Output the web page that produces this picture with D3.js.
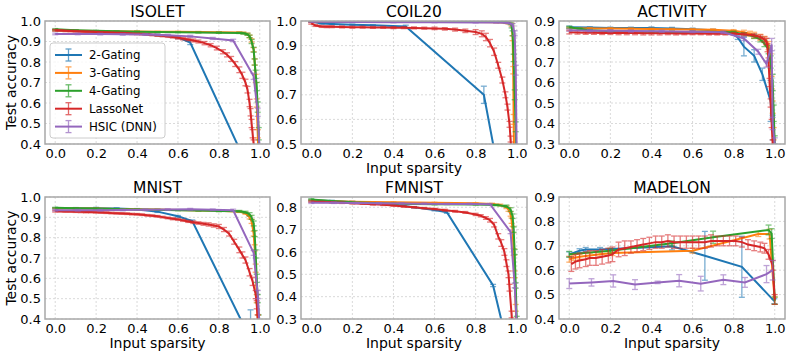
<!DOCTYPE html>
<html><head><meta charset="utf-8">
<script src="https://cdn.jsdelivr.net/npm/d3@7"></script>
<style>body{margin:0;background:#fff}svg{display:block;font-family:"DejaVu Sans",sans-serif}</style>
</head><body><svg id="c" width="793" height="357"></svg>
<script>
const METHODS = ["2-Gating","3-Gating","4-Gating","LassoNet","HSIC (DNN)"];
const COLORS = ["#1f77b4","#ff7f0e","#2ca02c","#d62728","#9467bd"];
const X_TICKS = [0,0.2,0.4,0.6,0.8,1.0];

// ISOLET: [sparsity, accuracy, error]
const ISOLET_G2 = [[0,0.955,0.003],[0.1,0.952,0.003],[0.2,0.948,0.003],[0.3,0.944,0.003],[0.4,0.94,0.004],[0.5,0.932,0.005],[0.6,0.92,0.006],[0.66,0.895,0.01],[0.95,0.27,0.02]];
const ISOLET_G3 = [[0,0.955,0.003],[0.1,0.953,0.002],[0.2,0.951,0.002],[0.3,0.95,0.002],[0.4,0.949,0.002],[0.5,0.948,0.002],[0.6,0.947,0.002],[0.7,0.946,0.003],[0.8,0.945,0.003],[0.9,0.944,0.003],[0.92,0.942,0.004],[0.94,0.936,0.005],[0.95,0.925,0.006],[0.96,0.905,0.008],[0.97,0.86,0.01],[0.975,0.8,0.015],[0.98,0.72,0.02],[0.985,0.6,0.02],[0.99,0.45,0.02],[0.995,0.3,0.02]];
const ISOLET_G4 = [[0,0.96,0.003],[0.1,0.955,0.002],[0.2,0.952,0.002],[0.3,0.95,0.002],[0.4,0.948,0.002],[0.5,0.946,0.002],[0.6,0.945,0.002],[0.7,0.944,0.002],[0.8,0.943,0.003],[0.9,0.942,0.003],[0.92,0.94,0.004],[0.94,0.935,0.005],[0.95,0.925,0.006],[0.96,0.9,0.01],[0.97,0.86,0.012],[0.975,0.8,0.015],[0.98,0.74,0.02],[0.985,0.68,0.02],[0.99,0.58,0.025],[0.995,0.45,0.03],[1.0,0.3,0.03]];
const ISOLET_LN = [[0,0.955,0.004],[0.025,0.954,0.004],[0.05,0.952,0.004],[0.075,0.951,0.004],[0.1,0.95,0.004],[0.125,0.949,0.004],[0.15,0.948,0.004],[0.175,0.947,0.004],[0.2,0.946,0.004],[0.225,0.945,0.004],[0.25,0.944,0.004],[0.275,0.943,0.004],[0.3,0.942,0.004],[0.325,0.941,0.004],[0.35,0.94,0.004],[0.375,0.938,0.004],[0.4,0.937,0.004],[0.425,0.936,0.004],[0.45,0.934,0.004],[0.475,0.932,0.004],[0.5,0.93,0.005],[0.525,0.928,0.005],[0.55,0.925,0.005],[0.575,0.922,0.005],[0.6,0.918,0.006],[0.625,0.914,0.006],[0.65,0.91,0.006],[0.675,0.905,0.007],[0.7,0.9,0.007],[0.73,0.892,0.008],[0.76,0.882,0.008],[0.79,0.868,0.009],[0.82,0.85,0.01],[0.84,0.835,0.01],[0.86,0.815,0.012],[0.88,0.79,0.012],[0.9,0.762,0.014],[0.915,0.735,0.015],[0.93,0.7,0.016],[0.94,0.665,0.016],[0.95,0.6,0.018],[0.955,0.555,0.018],[0.96,0.5,0.02],[0.965,0.45,0.02],[0.97,0.4,0.02],[0.975,0.3,0.02]];
const ISOLET_HS = [[0,0.937,0.004],[0.11,0.937,0.004],[0.22,0.936,0.004],[0.33,0.935,0.004],[0.44,0.934,0.004],[0.55,0.931,0.004],[0.66,0.925,0.005],[0.77,0.915,0.005],[0.87,0.905,0.006],[0.97,0.73,0.015],[0.99,0.555,0.02],[1.0,0.35,0.02]];

const COIL20_G2 = [[0,0.998,0.002],[0.05,0.99,0.002],[0.1,0.988,0.002],[0.2,0.985,0.002],[0.3,0.983,0.002],[0.46,0.978,0.005],[0.84,0.7,0.035],[0.93,0.3,0.04]];
const COIL20_G3 = [[0,0.998,0.001],[0.2,0.997,0.001],[0.4,0.997,0.001],[0.6,0.996,0.001],[0.8,0.996,0.001],[0.9,0.995,0.002],[0.95,0.993,0.003],[0.96,0.992,0.004],[0.975,0.985,0.006],[0.98,0.93,0.01],[0.983,0.8,0.015],[0.985,0.6,0.02],[0.987,0.45,0.02]];
const COIL20_G4 = [[0,0.998,0.001],[0.2,0.998,0.001],[0.4,0.997,0.001],[0.6,0.997,0.001],[0.8,0.997,0.001],[0.9,0.997,0.002],[0.95,0.995,0.003],[0.97,0.99,0.005],[0.975,0.98,0.008],[0.98,0.95,0.01],[0.985,0.85,0.015],[0.99,0.7,0.02],[0.995,0.57,0.02],[1.0,0.4,0.02]];
const COIL20_LN = [[0,0.99,0.003],[0.02,0.982,0.004],[0.05,0.978,0.004],[0.075,0.977,0.004],[0.1,0.977,0.004],[0.15,0.976,0.004],[0.2,0.975,0.004],[0.25,0.975,0.004],[0.3,0.974,0.004],[0.35,0.974,0.004],[0.4,0.973,0.004],[0.45,0.973,0.004],[0.5,0.972,0.004],[0.55,0.971,0.004],[0.6,0.97,0.005],[0.65,0.968,0.005],[0.7,0.965,0.006],[0.75,0.96,0.007],[0.8,0.955,0.01],[0.83,0.948,0.012],[0.85,0.935,0.015],[0.87,0.91,0.015],[0.89,0.875,0.015],[0.91,0.82,0.012],[0.93,0.76,0.012],[0.945,0.7,0.012],[0.955,0.65,0.012],[0.965,0.58,0.012],[0.97,0.52,0.012],[0.975,0.45,0.012]];
const COIL20_HS = [[0,0.997,0.002],[0.2,0.996,0.002],[0.4,0.995,0.002],[0.6,0.995,0.002],[0.8,0.994,0.002],[0.9,0.994,0.002],[0.96,0.992,0.003],[0.98,0.985,0.005],[0.99,0.95,0.01],[0.995,0.8,0.02],[1.0,0.45,0.02]];

const ACTIVITY_G2 = [[0,0.87,0.005],[0.1,0.868,0.004],[0.2,0.866,0.004],[0.3,0.866,0.004],[0.4,0.866,0.005],[0.5,0.864,0.005],[0.6,0.86,0.005],[0.7,0.855,0.005],[0.78,0.845,0.006],[0.82,0.82,0.01],[0.85,0.775,0.045],[0.9,0.73,0.03],[0.94,0.64,0.03],[0.98,0.51,0.1],[0.99,0.38,0.06],[1.0,0.25,0.05]];
const ACTIVITY_G3 = [[0,0.865,0.004],[0.1,0.864,0.004],[0.2,0.863,0.004],[0.3,0.862,0.004],[0.4,0.861,0.004],[0.5,0.86,0.004],[0.6,0.859,0.004],[0.7,0.857,0.004],[0.8,0.852,0.006],[0.85,0.845,0.01],[0.88,0.838,0.012],[0.9,0.83,0.015],[0.93,0.82,0.015],[0.95,0.81,0.015],[0.96,0.8,0.015],[0.97,0.78,0.02],[0.98,0.72,0.02],[0.985,0.6,0.03],[0.99,0.48,0.03],[0.995,0.35,0.03],[1.0,0.25,0.03]];
const ACTIVITY_G4 = [[0,0.87,0.004],[0.05,0.862,0.004],[0.1,0.855,0.004],[0.2,0.85,0.004],[0.3,0.848,0.004],[0.4,0.847,0.004],[0.5,0.846,0.004],[0.6,0.846,0.004],[0.7,0.845,0.004],[0.8,0.845,0.005],[0.85,0.835,0.008],[0.9,0.825,0.01],[0.93,0.81,0.012],[0.95,0.79,0.015],[0.97,0.76,0.02],[0.98,0.7,0.03],[0.99,0.6,0.04],[0.995,0.45,0.04],[1.0,0.3,0.04]];
const ACTIVITY_LN = [[0,0.845,0.008],[0.04,0.844,0.008],[0.08,0.843,0.008],[0.12,0.843,0.008],[0.16,0.842,0.008],[0.2,0.842,0.008],[0.24,0.841,0.008],[0.28,0.841,0.008],[0.32,0.841,0.008],[0.36,0.84,0.008],[0.4,0.84,0.008],[0.44,0.84,0.008],[0.48,0.84,0.007],[0.52,0.839,0.007],[0.56,0.839,0.006],[0.6,0.839,0.006],[0.64,0.839,0.006],[0.68,0.838,0.006],[0.72,0.838,0.006],[0.76,0.838,0.006],[0.8,0.838,0.006],[0.85,0.835,0.007],[0.9,0.83,0.008],[0.93,0.822,0.01],[0.95,0.81,0.012],[0.96,0.8,0.015],[0.965,0.77,0.02],[0.97,0.7,0.02],[0.975,0.6,0.02],[0.98,0.5,0.02],[0.985,0.4,0.02],[0.99,0.3,0.02]];
const ACTIVITY_HS = [[0,0.855,0.005],[0.1,0.853,0.005],[0.2,0.852,0.005],[0.3,0.851,0.005],[0.45,0.85,0.005],[0.6,0.848,0.005],[0.75,0.845,0.006],[0.85,0.815,0.01],[0.92,0.75,0.012],[0.96,0.69,0.015],[0.985,0.785,0.03],[0.99,0.4,0.03],[1.0,0.3,0.03]];

const MNIST_G2 = [[0,0.945,0.003],[0.1,0.945,0.003],[0.2,0.945,0.004],[0.3,0.944,0.003],[0.4,0.94,0.003],[0.5,0.928,0.004],[0.6,0.905,0.004],[0.67,0.882,0.005],[0.955,0.3,0.145]];
const MNIST_G3 = [[0,0.945,0.002],[0.1,0.944,0.002],[0.2,0.943,0.002],[0.3,0.941,0.002],[0.4,0.94,0.002],[0.5,0.938,0.002],[0.6,0.936,0.002],[0.7,0.934,0.002],[0.8,0.932,0.003],[0.9,0.928,0.004],[0.93,0.92,0.005],[0.95,0.9,0.008],[0.96,0.88,0.01],[0.97,0.82,0.012],[0.975,0.75,0.015],[0.98,0.65,0.02],[0.985,0.5,0.02],[0.99,0.4,0.02],[0.995,0.3,0.02]];
const MNIST_G4 = [[0,0.947,0.002],[0.1,0.945,0.002],[0.2,0.943,0.002],[0.3,0.941,0.002],[0.4,0.939,0.002],[0.5,0.937,0.002],[0.6,0.935,0.002],[0.7,0.933,0.002],[0.8,0.931,0.003],[0.9,0.93,0.004],[0.93,0.925,0.005],[0.95,0.915,0.008],[0.96,0.9,0.01],[0.97,0.87,0.012],[0.975,0.82,0.015],[0.98,0.72,0.02],[0.985,0.6,0.02],[0.99,0.5,0.02],[0.995,0.4,0.02],[1.0,0.3,0.02]];
const MNIST_LN = [[0,0.93,0.004],[0.025,0.93,0.004],[0.05,0.929,0.004],[0.075,0.929,0.004],[0.1,0.928,0.004],[0.125,0.927,0.004],[0.15,0.926,0.004],[0.175,0.926,0.004],[0.2,0.925,0.004],[0.225,0.924,0.004],[0.25,0.923,0.004],[0.275,0.921,0.004],[0.3,0.92,0.004],[0.325,0.919,0.004],[0.35,0.918,0.004],[0.375,0.916,0.004],[0.4,0.915,0.004],[0.425,0.913,0.004],[0.45,0.91,0.004],[0.475,0.908,0.004],[0.5,0.905,0.004],[0.525,0.901,0.004],[0.55,0.897,0.004],[0.575,0.893,0.005],[0.6,0.89,0.005],[0.625,0.885,0.005],[0.65,0.88,0.005],[0.675,0.876,0.006],[0.7,0.872,0.006],[0.725,0.868,0.007],[0.75,0.865,0.008],[0.775,0.86,0.008],[0.8,0.855,0.01],[0.825,0.84,0.01],[0.85,0.82,0.012],[0.875,0.78,0.012],[0.9,0.74,0.014],[0.915,0.715,0.015],[0.93,0.69,0.015],[0.95,0.63,0.018],[0.965,0.585,0.02],[0.98,0.52,0.02],[0.985,0.47,0.02],[0.99,0.4,0.02],[0.995,0.3,0.02]];
const MNIST_HS = [[0,0.935,0.004],[0.11,0.935,0.004],[0.22,0.935,0.004],[0.33,0.936,0.004],[0.44,0.937,0.004],[0.55,0.938,0.004],[0.66,0.94,0.004],[0.77,0.937,0.004],[0.87,0.935,0.005],[0.97,0.725,0.012],[0.99,0.52,0.02],[1.0,0.35,0.02]];

const FMNIST_G2 = [[0,0.832,0.003],[0.1,0.828,0.003],[0.2,0.824,0.003],[0.3,0.82,0.003],[0.4,0.812,0.003],[0.5,0.8,0.003],[0.6,0.788,0.004],[0.66,0.778,0.005],[0.885,0.45,0.005],[0.95,0.2,0.01]];
const FMNIST_G3 = [[0,0.83,0.003],[0.2,0.825,0.002],[0.4,0.822,0.002],[0.6,0.82,0.002],[0.8,0.818,0.002],[0.88,0.815,0.003],[0.92,0.81,0.004],[0.95,0.8,0.006],[0.96,0.79,0.008],[0.97,0.77,0.01],[0.975,0.74,0.012],[0.98,0.7,0.015],[0.985,0.6,0.015],[0.99,0.5,0.015],[0.995,0.35,0.015],[1.0,0.25,0.015]];
const FMNIST_G4 = [[0,0.835,0.003],[0.1,0.828,0.002],[0.2,0.822,0.002],[0.4,0.816,0.002],[0.6,0.813,0.002],[0.8,0.812,0.002],[0.9,0.81,0.003],[0.95,0.805,0.005],[0.97,0.79,0.008],[0.98,0.76,0.01],[0.985,0.7,0.012],[0.99,0.6,0.012],[0.995,0.45,0.012],[1.0,0.3,0.012]];
const FMNIST_LN = [[0,0.825,0.003],[0.05,0.824,0.003],[0.1,0.822,0.003],[0.15,0.82,0.003],[0.2,0.818,0.003],[0.25,0.816,0.003],[0.3,0.813,0.003],[0.35,0.811,0.003],[0.4,0.808,0.003],[0.45,0.804,0.003],[0.5,0.8,0.003],[0.55,0.796,0.003],[0.6,0.792,0.003],[0.65,0.787,0.004],[0.7,0.782,0.004],[0.75,0.777,0.004],[0.8,0.768,0.005],[0.825,0.762,0.005],[0.85,0.752,0.006],[0.87,0.742,0.008],[0.89,0.722,0.01],[0.91,0.67,0.012],[0.925,0.64,0.015],[0.94,0.6,0.015],[0.95,0.55,0.015],[0.96,0.5,0.015],[0.965,0.44,0.015],[0.975,0.32,0.015],[0.98,0.25,0.015]];
const FMNIST_HS = [[0,0.82,0.003],[0.11,0.82,0.003],[0.22,0.819,0.003],[0.33,0.818,0.003],[0.44,0.817,0.003],[0.55,0.816,0.003],[0.66,0.815,0.003],[0.77,0.815,0.003],[0.87,0.814,0.003],[0.97,0.69,0.008],[0.99,0.45,0.01],[1.0,0.28,0.01]];

const MADELON_G2 = [[0,0.665,0.01],[0.05,0.68,0.008],[0.08,0.685,0.008],[0.15,0.685,0.008],[0.5,0.698,0.015],[0.66,0.659,0.1],[0.84,0.614,0.125],[0.998,0.473,0.01]];
const MADELON_G3 = [[0,0.645,0.012],[0.02,0.65,0.01],[0.05,0.655,0.01],[0.1,0.66,0.01],[0.15,0.665,0.01],[0.21,0.67,0.01],[0.6,0.68,0.01],[0.92,0.748,0.01],[0.975,0.748,0.02],[1.0,0.475,0.015]];
const MADELON_G4 = [[0,0.665,0.012],[0.2,0.68,0.01],[0.5,0.71,0.01],[0.7,0.735,0.025],[0.97,0.765,0.02],[0.985,0.75,0.02],[1.0,0.475,0.015]];
const MADELON_LN = [[0.01,0.625,0.03],[0.03,0.635,0.03],[0.05,0.64,0.03],[0.08,0.645,0.03],[0.1,0.65,0.03],[0.13,0.65,0.03],[0.16,0.655,0.03],[0.19,0.66,0.03],[0.21,0.665,0.03],[0.24,0.685,0.03],[0.27,0.69,0.03],[0.3,0.695,0.025],[0.33,0.7,0.025],[0.36,0.705,0.025],[0.39,0.71,0.025],[0.42,0.715,0.025],[0.45,0.715,0.025],[0.48,0.72,0.025],[0.51,0.715,0.025],[0.54,0.715,0.025],[0.57,0.715,0.025],[0.6,0.715,0.025],[0.63,0.715,0.025],[0.66,0.715,0.025],[0.69,0.72,0.025],[0.72,0.72,0.02],[0.75,0.72,0.02],[0.78,0.72,0.02],[0.81,0.72,0.02],[0.84,0.715,0.02],[0.87,0.705,0.02],[0.9,0.7,0.02],[0.93,0.695,0.02],[0.95,0.69,0.02],[0.97,0.665,0.02],[0.99,0.62,0.02],[1.0,0.48,0.02]];
const MADELON_HS = [[0,0.545,0.02],[0.108,0.55,0.015],[0.214,0.556,0.025],[0.32,0.541,0.02],[0.43,0.55,0.005],[0.535,0.557,0.025],[0.64,0.545,0.03],[0.75,0.561,0.02],[0.855,0.55,0.02],[0.96,0.584,0.035],[0.99,0.6,0.04]];

const PANEL_NAMES = ["ISOLET","COIL20","ACTIVITY","MNIST","FMNIST","MADELON"];
const PANEL_SERIES = [
  [ISOLET_G2,ISOLET_G3,ISOLET_G4,ISOLET_LN,ISOLET_HS],
  [COIL20_G2,COIL20_G3,COIL20_G4,COIL20_LN,COIL20_HS],
  [ACTIVITY_G2,ACTIVITY_G3,ACTIVITY_G4,ACTIVITY_LN,ACTIVITY_HS],
  [MNIST_G2,MNIST_G3,MNIST_G4,MNIST_LN,MNIST_HS],
  [FMNIST_G2,FMNIST_G3,FMNIST_G4,FMNIST_LN,FMNIST_HS],
  [MADELON_G2,MADELON_G3,MADELON_G4,MADELON_LN,MADELON_HS]
];
const Y_DOMAINS = [[0.4,1.0],[0.5,1.0],[0.3,0.9],[0.4,1.0],[0.3,0.846],[0.4,0.9]];
const Y_TICKS = [
  [0.4,0.5,0.6,0.7,0.8,0.9,1.0],
  [0.5,0.6,0.7,0.8,0.9,1.0],
  [0.3,0.4,0.5,0.6,0.7,0.8,0.9],
  [0.4,0.5,0.6,0.7,0.8,0.9,1.0],
  [0.3,0.4,0.5,0.6,0.7,0.8],
  [0.4,0.5,0.6,0.7,0.8,0.9]
];

const svg = d3.select("#c");
const colL = [45,301,559], colW = [225,226,226];
const rowT = [21,197], rowH = [123,122];
const fmt = d3.format(".1f");

PANEL_NAMES.forEach((name, i) => {
  const r = Math.floor(i/3), c = i%3;
  const L = colL[c], T = rowT[r], W = colW[c], H = rowH[r];
  const x = d3.scaleLinear().domain([-0.05,1.05]).range([L, L+W]);
  const y = d3.scaleLinear().domain(Y_DOMAINS[i]).range([T+H, T]);
  const g = svg.append("g");
  const cid = "clip"+i;
  svg.append("clipPath").attr("id",cid).append("rect").attr("x",L).attr("y",T).attr("width",W).attr("height",H);

  // grid
  const grid = g.append("g").attr("stroke","#d0d0d0").attr("stroke-width",0.8).attr("stroke-dasharray","2,2");
  X_TICKS.forEach(t => grid.append("line").attr("x1",x(t)).attr("x2",x(t)).attr("y1",T).attr("y2",T+H));
  Y_TICKS[i].forEach(t => grid.append("line").attr("x1",L).attr("x2",L+W).attr("y1",y(t)).attr("y2",y(t)));

  // series
  const plot = g.append("g").attr("clip-path",`url(#${cid})`);
  const line = d3.line().x(d=>x(d[0])).y(d=>y(d[1]));
  PANEL_SERIES[i].forEach((s, k) => {
    const sg = plot.append("g");
    sg.append("path").datum(s).attr("d",line).attr("fill","none").attr("stroke",COLORS[k]).attr("stroke-width",2);
    const eb = sg.append("g").attr("stroke",COLORS[k]).attr("stroke-width",1.3).attr("opacity",0.6);
    s.forEach(d => {
      const xx = x(d[0]), y1 = y(d[1]-d[2]), y2 = y(d[1]+d[2]);
      eb.append("line").attr("x1",xx).attr("x2",xx).attr("y1",y1).attr("y2",y2);
      eb.append("line").attr("x1",xx-3).attr("x2",xx+3).attr("y1",y1).attr("y2",y1);
      eb.append("line").attr("x1",xx-3).attr("x2",xx+3).attr("y1",y2).attr("y2",y2);
    });
  });

  // frame
  g.append("rect").attr("x",L).attr("y",T).attr("width",W).attr("height",H).attr("fill","none").attr("stroke","#a8a8a8").attr("stroke-width",1.5);

  // axes
  const xa = d3.axisBottom(x).tickValues(X_TICKS).tickFormat(fmt).tickSize(0).tickPadding(5);
  const ya = d3.axisLeft(y).tickValues(Y_TICKS[i]).tickFormat(fmt).tickSize(0).tickPadding(4);
  const gx = svg.append("g").attr("transform",`translate(0,${T+H})`).call(xa);
  const gy = svg.append("g").attr("transform",`translate(${L},0)`).call(ya);
  [gx,gy].forEach(a => { a.select(".domain").remove(); a.selectAll("text").attr("font-size",13).attr("fill","#000").attr("font-family","DejaVu Sans"); });

  svg.append("text").attr("x",L+W/2).attr("y",T-4).attr("text-anchor","middle").attr("font-size",15.5).text(name);
  if (r===1 || c===1) svg.append("text").attr("x",L+W/2).attr("y",T+H+29).attr("text-anchor","middle").attr("font-size",14).text("Input sparsity");
  if (c===0) svg.append("text").attr("transform",`translate(16,${T+H/2}) rotate(-90)`).attr("text-anchor","middle").attr("font-size",14).text("Test accuracy");
});

// legend in ISOLET panel
const lg = svg.append("g");
lg.append("rect").attr("x",50).attr("y",43).attr("width",115).attr("height",95).attr("rx",3).attr("fill","#fff").attr("fill-opacity",0.8).attr("stroke","#cccccc");
METHODS.forEach((m, k) => {
  const yy = 55 + k*17.9;
  lg.append("line").attr("x1",55).attr("x2",82).attr("y1",yy).attr("y2",yy).attr("stroke",COLORS[k]).attr("stroke-width",2);
  const e = lg.append("g").attr("stroke",COLORS[k]).attr("stroke-width",1.3).attr("opacity",0.7);
  e.append("line").attr("x1",68.5).attr("x2",68.5).attr("y1",yy-6).attr("y2",yy+6);
  e.append("line").attr("x1",65.5).attr("x2",71.5).attr("y1",yy-6).attr("y2",yy-6);
  e.append("line").attr("x1",65.5).attr("x2",71.5).attr("y1",yy+6).attr("y2",yy+6);
  lg.append("text").attr("x",89).attr("y",yy+4.2).attr("font-size",11.8).text(m);
});
</script></body></html>
